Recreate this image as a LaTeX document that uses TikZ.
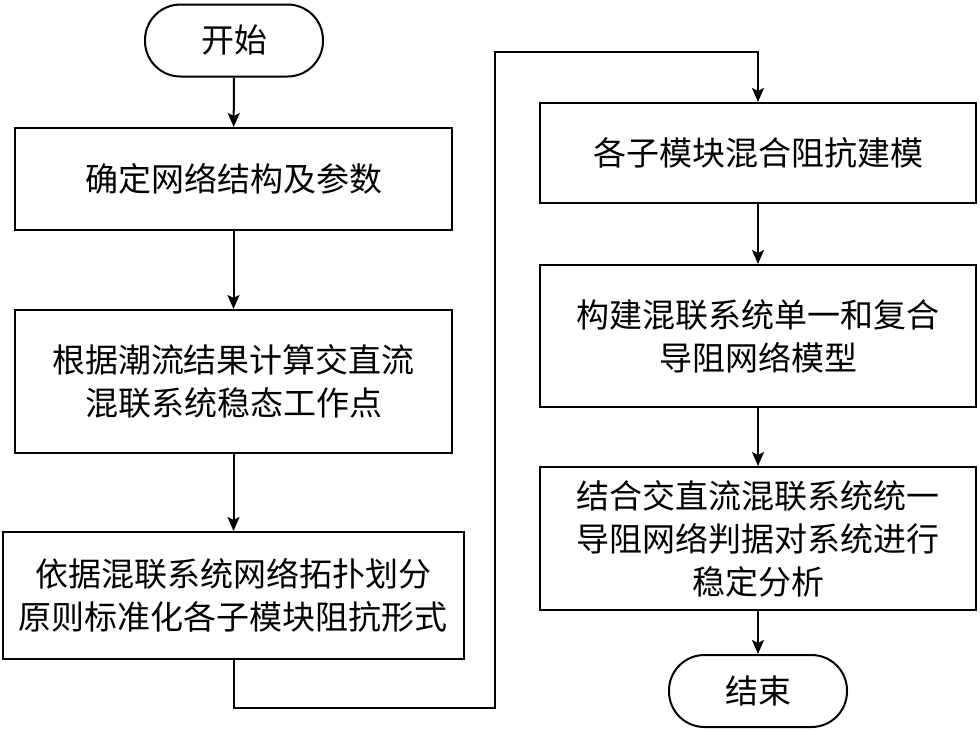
\documentclass[tikz,border=0pt]{standalone}
\usepackage{fontspec}
\newfontfamily\cjk{Noto Sans CJK SC}
\usetikzlibrary{arrows.meta}
\tikzset{
  flowbox/.style={draw, line width=2pt, align=center, inner sep=0pt, font=\cjk\fontsize{33}{43}\selectfont},
  termbox/.style={flowbox, rounded corners=35.5pt, minimum width=178pt, minimum height=72pt},
  conn/.style={line width=2pt, -{Stealth[length=14pt,width=12pt,inset=3pt]}}
}
\begin{document}
\begin{tikzpicture}[x=1pt,y=-1pt]
\useasboundingbox (0,0) rectangle (980,729);
\node[termbox] (start) at (234,40.5) {开始};
\node[flowbox, minimum width=437pt, minimum height=102pt] (b1) at (233.5,179) {确定网络结构及参数};
\node[flowbox, minimum width=437pt, minimum height=143pt] (b2) at (233.5,381.5) {根据潮流结果计算交直流\\混联系统稳态工作点};
\node[flowbox, minimum width=461pt, minimum height=127pt] (b3) at (233.5,595.5) {依据混联系统网络拓扑划分\\原则标准化各子模块阻抗形式};
\node[flowbox, minimum width=436pt, minimum height=100pt] (b4) at (758,153) {各子模块混合阻抗建模};
\node[flowbox, minimum width=436pt, minimum height=142pt] (b5) at (758,336) {构建混联系统单一和复合\\导阻网络模型};
\node[flowbox, minimum width=436pt, minimum height=143pt] (b6) at (758,538.5) {结合交直流混联系统统一\\导阻网络判据对系统进行\\稳定分析};
\node[termbox] (end) at (758,691) {结束};
\coordinate (c1) at (233.5,708);
\coordinate (c2) at (495,708);
\coordinate (c3) at (495,52);
\coordinate (c4) at (758,52);
\draw[conn] (start) -- (b1);
\draw[conn] (b1) -- (b2);
\draw[conn] (b2) -- (b3);
\draw[conn] (b3.south) -- (c1) -- (c2) -- (c3) -- (c4) -- (b4.north);
\draw[conn] (b4) -- (b5);
\draw[conn] (b5) -- (b6);
\draw[conn] (b6) -- (end);
\end{tikzpicture}
\end{document}
